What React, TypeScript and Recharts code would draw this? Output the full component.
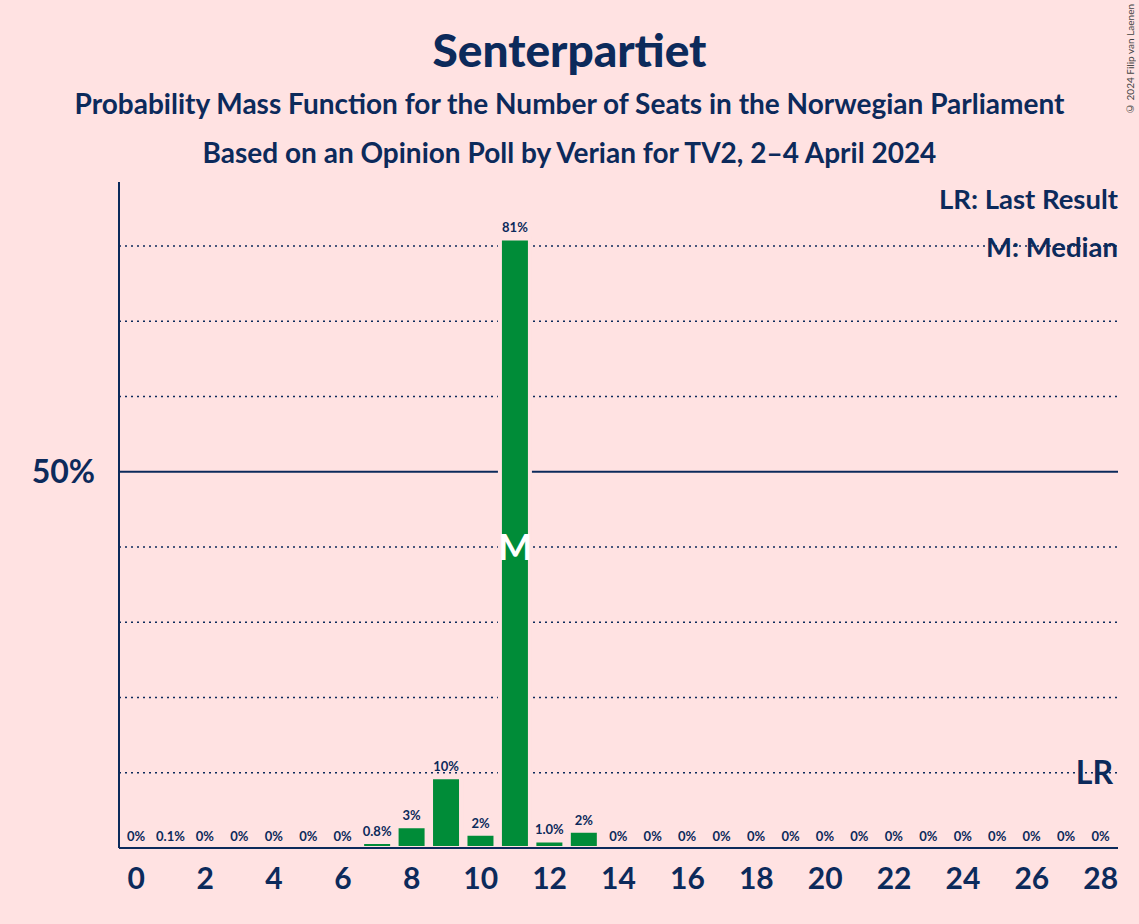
import React from 'react';
import { BarChart, Bar, XAxis, YAxis, ReferenceLine, ReferenceDot, LabelList, CartesianGrid, Cell } from 'recharts';

const seats = Array.from({ length: 29 }, (_, i) => i);
const probs = [0, 0.1, 0, 0, 0, 0, 0, 0.8, 2.9, 9.4, 1.9, 81, 1.0, 2.3, 0, 0, 0, 0, 0, 0, 0, 0, 0, 0, 0, 0, 0, 0, 0];
const labels = ['0%', '0.1%', '0%', '0%', '0%', '0%', '0%', '0.8%', '3%', '10%', '2%', '81%', '1.0%', '2%', '0%', '0%', '0%', '0%', '0%', '0%', '0%', '0%', '0%', '0%', '0%', '0%', '0%', '0%', '0%'];
const xTicks = [0, 2, 4, 6, 8, 10, 12, 14, 16, 18, 20, 22, 24, 26, 28];
const dottedLines = [10, 20, 30, 40, 60, 70, 80];
const medianSeat = 11;

const BG = '#ffe2e2';
const NAVY = '#0c2a5b';
const GREEN = '#008c38';
const FONT = 'Lato, "Open Sans", sans-serif';

const data = seats.map((s, i) => ({ seat: s, p: probs[i], label: labels[i] }));

export default function App() {
  return (
    <div style={{ position: 'fixed', top: 0, left: 0, width: 1139, height: 924, background: BG, fontFamily: FONT, color: NAVY }}>
      <div style={{ position: 'absolute', top: 22, width: '100%', textAlign: 'center', fontSize: 46, fontWeight: 900 }}>Senterpartiet</div>
      <div style={{ position: 'absolute', top: 86, width: '100%', textAlign: 'center', fontSize: 28, fontWeight: 700 }}>Probability Mass Function for the Number of Seats in the Norwegian Parliament</div>
      <div style={{ position: 'absolute', top: 135, width: '100%', textAlign: 'center', fontSize: 28, fontWeight: 700 }}>Based on an Opinion Poll by Verian for TV2, 2–4 April 2024</div>
      <div style={{ position: 'absolute', top: 182, right: 21, fontSize: 27.5, fontWeight: 700 }}>LR: Last Result</div>
      <div style={{ position: 'absolute', top: 230, right: 21, fontSize: 27.5, fontWeight: 700 }}>M: Median</div>
      <div style={{ position: 'absolute', top: 4, right: 3, fontSize: 10, writingMode: 'vertical-rl', transform: 'rotate(180deg)', color: '#444' }}>© 2024 Filip van Laenen</div>
      <div style={{ position: 'absolute', top: 0, left: 0 }}>
        <BarChart width={1139} height={924} data={data} margin={{ top: 182, right: 21, bottom: 46, left: 0 }} barCategoryGap={2}>
          <CartesianGrid vertical={false} horizontalValues={dottedLines} stroke={NAVY} strokeDasharray="2 4" strokeWidth={1.5} />
          <CartesianGrid vertical={false} horizontalValues={[50]} stroke={NAVY} strokeWidth={2} />
          <XAxis dataKey="seat" ticks={xTicks} interval={0} tickLine={false} axisLine={{ stroke: NAVY, strokeWidth: 2 }}
            tick={{ fill: NAVY, fontSize: 30, fontWeight: 700, fontFamily: FONT }} tickMargin={14} />
          <YAxis domain={[0, 88.5]} ticks={[50]} tickFormatter={(v) => `${v}%`} width={119} tickLine={false}
            axisLine={{ stroke: NAVY, strokeWidth: 2 }} tick={{ fill: NAVY, fontSize: 32, fontWeight: 700, fontFamily: FONT }} tickMargin={18} />
          <Bar dataKey="p" fill={GREEN} stroke={BG} strokeWidth={4} minPointSize={1} isAnimationActive={false}>
            {data.map((d) => (
              <Cell key={d.seat} fill={d.p > 0 ? GREEN : 'none'} stroke={d.p > 0 ? BG : 'none'} />
            ))}
            <LabelList dataKey="label" position="top" fill={NAVY} fontSize={13} fontWeight={700} fontFamily={FONT} offset={6} />
          </Bar>
          <ReferenceDot x={medianSeat} y={40} r={0} stroke="none" fill="none"
            label={{ value: 'M', position: 'center', fill: '#ffffff', fontSize: 36, fontWeight: 700, fontFamily: FONT }} />
          <ReferenceLine y={10} stroke="none" label={{ value: 'LR', position: 'insideRight', fill: NAVY, fontSize: 32, fontWeight: 700, fontFamily: FONT }} />
        </BarChart>
      </div>
    </div>
  );
}
